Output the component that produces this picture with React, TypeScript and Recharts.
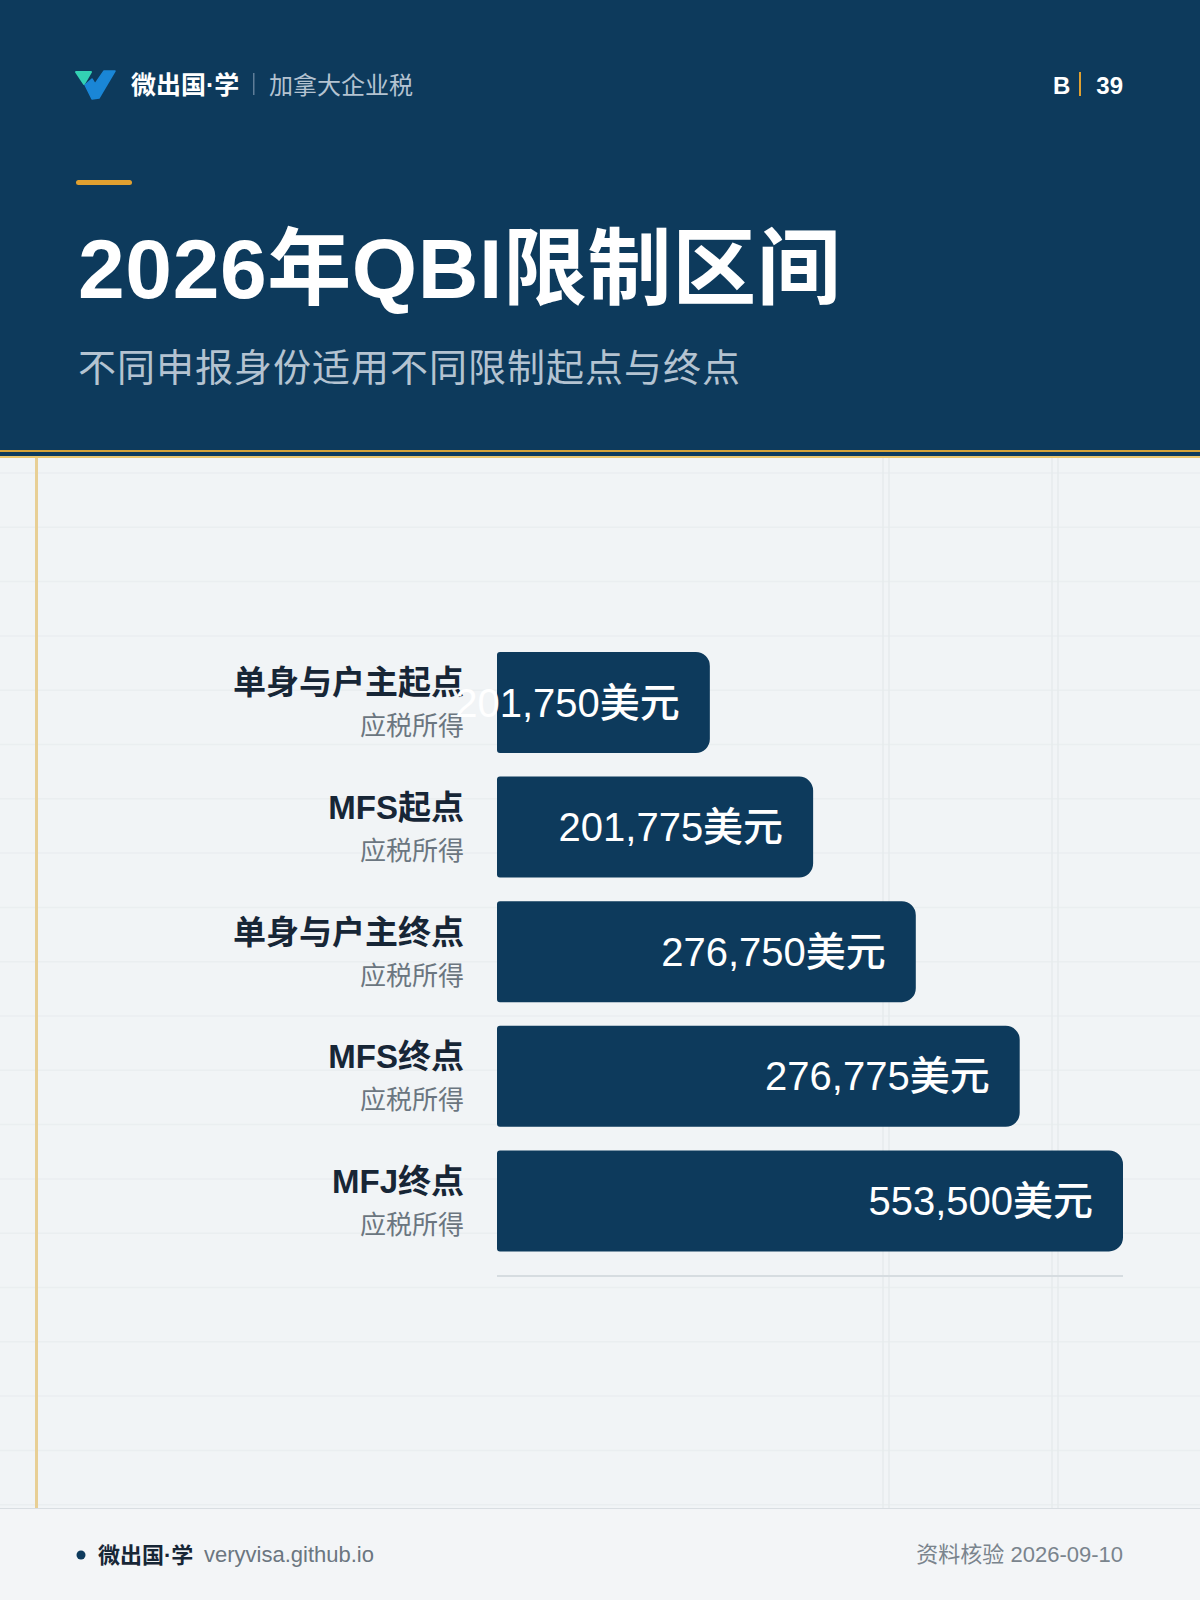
import React from "react";
import { BarChart, Bar, XAxis, YAxis, LabelList } from "recharts";

// QBI 限制区间 —— 各申报身份的起点 / 终点
const categories = ["单身与户主起点", "MFS起点", "单身与户主终点", "MFS终点", "MFJ终点"];
const subLabels = ["应税所得", "应税所得", "应税所得", "应税所得", "应税所得"];
const amounts = [201750, 201775, 276750, 276775, 553500];
// bars in the card are stepped, not to scale: relative lengths
const barShare = [0.34, 0.505, 0.669, 0.835, 1];
const unit = "美元";

const rows = categories.map((name, i) => ({
  name,
  sub: subLabels[i],
  amount: amounts[i],
  share: barShare[i],
}));

const NAVY = "#0d3a5c";
const FONT = "'Liberation Sans', 'Noto Sans CJK SC', sans-serif";

function CategoryTick(props: any) {
  const { x, y, payload } = props;
  const i = categories.indexOf(payload.value);
  return (
    <g>
      <text x={x} y={y - 8} textAnchor="end" fill="#172636" fontSize={33} fontWeight={700} fontFamily={FONT}>
        {payload.value}
      </text>
      <text x={x} y={y + 33} textAnchor="end" fill="#6b7680" fontSize={26} fontFamily={FONT}>
        {subLabels[i]}
      </text>
    </g>
  );
}

function ValueLabel(props: any) {
  const { x, y, width, height, value } = props;
  return (
    <text
      x={Number(x) + Number(width) - 30}
      y={Number(y) + Number(height) / 2 + 14}
      textAnchor="end"
      fill="#ffffff"
      fontSize={40}
      fontWeight={500}
      fontFamily={FONT}
    >
      {Number(value).toLocaleString("en-US") + unit}
    </text>
  );
}

function Backdrop() {
  const hLines: number[] = [];
  for (let y = 473; y < 1505; y += 54.3) hLines.push(y);
  return (
    <svg width={1200} height={1600} style={{ position: "absolute", left: 0, top: 0 }}>
      <rect x={0} y={0} width={1200} height={1600} fill="#f1f4f6" />
      {hLines.map((y) => (
        <line key={y} x1={0} x2={1200} y1={y} y2={y} stroke="#eaeef0" strokeWidth={1.5} />
      ))}
      {[883, 889, 1052, 1058].map((x) => (
        <line key={x} x1={x} x2={x} y1={458} y2={1508} stroke="#e6ebed" strokeWidth={1.5} />
      ))}
      <rect x={35} y={458} width={3} height={1050} fill="#e8cf95" />

      {/* header */}
      <rect x={0} y={0} width={1200} height={450} fill={NAVY} />
      <rect x={0} y={450} width={1200} height={2} fill="#d4a23a" />
      <rect x={0} y={452} width={1200} height={4} fill={NAVY} />
      <rect x={0} y={456} width={1200} height={2} fill="#eac66e" />

      {/* logo */}
      <path d="M76 72 L91 72 L84 84 Z" fill="#33d1b4" stroke="#33d1b4" strokeWidth={2} strokeLinejoin="round" />
      <path d="M104 71 L115 71 L99 98 L92 99 L85 85 L92 79 L95 84 Z" fill="#1a86d6" stroke="#1a86d6" strokeWidth={1.5} strokeLinejoin="round" />
      <text x={131} y={94} fill="#ffffff" fontSize={25} fontWeight={700} fontFamily={FONT}>微出国·学</text>
      <rect x={253} y={73} width={1.5} height={22} fill="#5f7d98" />
      <text x={269} y={94} fill="#b4c3d1" fontSize={24} fontFamily={FONT}>加拿大企业税</text>

      <text x={1053} y={94} fill="#ffffff" fontSize={24} fontWeight={700} fontFamily={FONT}>B</text>
      <rect x={1079} y={72} width={2} height={24} fill="#e0a030" />
      <text x={1123} y={94} textAnchor="end" fill="#ffffff" fontSize={24} fontWeight={700} fontFamily={FONT}>39</text>

      <rect x={76} y={180} width={56} height={5} rx={2.5} fill="#e0a030" />
      <text x={78} y={298} fill="#ffffff" fontSize={84} fontWeight={700} letterSpacing={0.6} fontFamily={FONT}>
        2026年QBI限制区间
      </text>
      <text x={78} y={381} fill="#b4c3d1" fontSize={38} letterSpacing={1} fontFamily={FONT}>
        不同申报身份适用不同限制起点与终点
      </text>

      {/* footer */}
      <rect x={0} y={1508} width={1200} height={92} fill="#f3f5f7" />
      <rect x={0} y={1508} width={1200} height={1} fill="#d9dee2" />
      <circle cx={81} cy={1555} r={4.5} fill={NAVY} />
      <text x={98} y={1563} fill="#172636" fontSize={22} fontWeight={700} fontFamily={FONT}>微出国·学</text>
      <text x={204} y={1562} fill="#6b7680" fontSize={22} fontFamily={FONT}>veryvisa.github.io</text>
      <text x={1123} y={1562} textAnchor="end" fill="#7a848d" fontSize={22} fontFamily={FONT}>
        资料核验 2026-09-10
      </text>
    </svg>
  );
}

export default function App() {
  return (
    <div style={{ position: "absolute", left: 0, top: 0, width: 1200, height: 1600, overflow: "hidden", fontFamily: FONT }}>
      <Backdrop />
      <div style={{ position: "absolute", left: 0, top: 600 }}>
        <BarChart
          width={1200}
          height={700}
          data={rows}
          layout="vertical"
          margin={{ top: 40, right: 77, bottom: 0, left: 0 }}
          barSize={101}
        >
          <XAxis
            type="number"
            domain={[0, 1]}
            tick={false}
            tickLine={false}
            height={24}
            axisLine={{ stroke: "#d6dce0", strokeWidth: 2 }}
          />
          <YAxis
            type="category"
            dataKey="name"
            width={497}
            axisLine={false}
            tickLine={false}
            tickSize={0}
            tickMargin={33}
            interval={0}
            padding={{ top: 0, bottom: 13 }}
            tick={<CategoryTick />}
          />
          <Bar dataKey="share" fill={NAVY} radius={[3, 14, 14, 3]} isAnimationActive={false}>
            <LabelList dataKey="amount" content={<ValueLabel />} />
          </Bar>
        </BarChart>
      </div>
    </div>
  );
}
